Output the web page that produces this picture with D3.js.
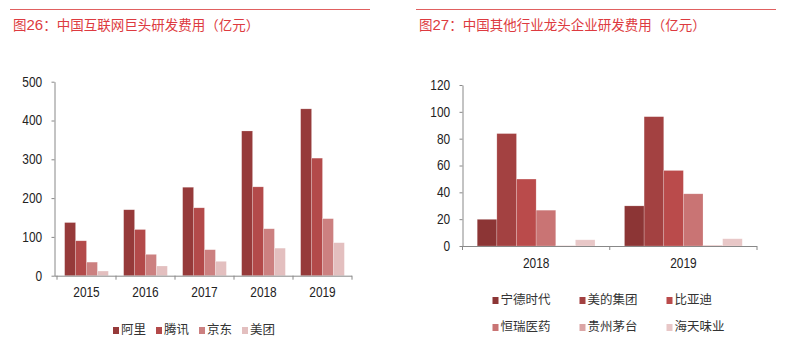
<!DOCTYPE html>
<html>
<head>
<meta charset="utf-8">
<script src="https://cdn.jsdelivr.net/npm/d3@7/dist/d3.min.js"></script>
<style>
  body { margin: 0; background: #fff; }
  svg { display: block; }
  .tick text { font-family: "Liberation Sans", Arial, sans-serif; fill: #222; }
</style>
</head>
<body>
<svg id="chart" width="788" height="354"></svg>
<script>
// 图26 data
const years26 = ['2015', '2016', '2017', '2018', '2019'];
const names26 = ['阿里', '腾讯', '京东', '美团'];
const ali = [137, 170, 228, 373, 430];
const tencent = [90, 119, 175, 229, 303];
const jd = [35, 55, 67, 121, 147];
const meituan = [12, 25, 37, 71, 85];
const ticks26 = [0, 100, 200, 300, 400, 500];

// 图27 data
const years27 = ['2018', '2019'];
const names27 = ['宁德时代', '美的集团', '比亚迪', '恒瑞医药', '贵州茅台', '海天味业'];
const catl = [19.9, 29.9];
const midea = [83.8, 96.4];
const byd = [49.9, 56.3];
const hengrui = [26.7, 38.9];
const moutai = [0.2, 0.5];
const haitian = [4.6, 5.4];
const ticks27 = [0, 20, 40, 60, 80, 100, 120];

const colors26 = ['#963a3a', '#b34a4a', '#cc8080', '#e3bfbf'];
const colors27 = ['#8c3535', '#a34141', '#ba4b4b', '#c97474', '#dba5a5', '#e8c7c7'];

const svg = d3.select('#chart');
const titleColor = '#dd3a40';
const cjk = '"Noto Sans CJK SC", sans-serif';

function header(x0, x1, label, text) {
    svg.append('line')
        .attr('x1', x0).attr('x2', x1).attr('y1', 9.5).attr('y2', 9.5)
        .attr('stroke', '#e06060').attr('stroke-width', 1);
    const t = svg.append('text')
        .attr('x', x0 + 3).attr('y', 30)
        .attr('fill', titleColor)
        .style('font-family', cjk)
        .style('font-size', '13.5px');
    t.append('tspan').text('图');
    t.append('tspan').style('font-family', '"Liberation Sans", Arial, sans-serif').style('font-size', '15px').text(label);
    t.append('tspan').text('：' + text);
}

function barChart(o) {
    const x = d3.scaleBand().domain(o.cats).range([o.left, o.right]).paddingInner(0).paddingOuter(0);
    const x1 = d3.scaleBand().domain(d3.range(o.series.length))
        .range([0, x.bandwidth()]).paddingOuter(o.pad).paddingInner(0);
    const y = d3.scaleLinear().domain([0, o.max]).range([o.bottom, o.top]);

    o.series.forEach((vals, si) => {
        svg.append('g').selectAll('rect')
            .data(vals)
            .join('rect')
            .attr('x', (d, i) => x(o.cats[i]) + x1(si))
            .attr('y', d => y(d))
            .attr('width', x1.bandwidth())
            .attr('height', d => o.bottom - y(d))
            .attr('fill', o.colors[si])
            .attr('stroke', 'rgba(255,255,255,0.35)')
            .attr('stroke-width', 0.6);
    });

    // labels in the source are a condensed face, so squeeze horizontally
    const ya = svg.append('g')
        .attr('transform', 'translate(' + o.axisX + ',0)')
        .call(d3.axisLeft(y).tickValues(o.ticks).tickSize(3).tickPadding(11.5).tickSizeOuter(0));
    ya.selectAll('text').style('font-size', '14px').attr('transform', 'scale(0.85,1)');
    ya.selectAll('line, path').attr('stroke', '#888');

    const xa = svg.append('g')
        .attr('transform', 'translate(0,' + o.bottom + ')')
        .call(d3.axisBottom(x).tickSize(0).tickPadding(o.xpad));
    xa.select('path').attr('d', 'M' + o.axisX + ',0.5H' + o.right).attr('stroke', '#888');
    xa.selectAll('text').style('font-size', '14px').attr('transform', 'scale(0.85,1)');
    // boundary ticks between categories
    xa.selectAll('.sep')
        .data(d3.range(o.cats.length + 1))
        .join('line')
        .attr('class', 'sep')
        .attr('x1', i => o.left + i * x.bandwidth())
        .attr('x2', i => o.left + i * x.bandwidth())
        .attr('y1', 0).attr('y2', 4)
        .attr('stroke', '#888');
}

header(10, 370, '26', '中国互联网巨头研发费用（亿元）');
header(416, 776, '27', '中国其他行业龙头企业研发费用（亿元）');

barChart({
    cats: years26, series: [ali, tencent, jd, meituan], colors: colors26,
    axisX: 54.5, left: 57, right: 352, top: 81.7, bottom: 275.7, max: 500, ticks: ticks26,
    pad: 0.7, xpad: 11
});

barChart({
    cats: years27, series: [catl, midea, byd, hengrui, moutai, haitian], colors: colors27,
    axisX: 462.5, left: 462.5, right: 757, top: 85, bottom: 246, max: 120, ticks: ticks27,
    pad: 0.75, xpad: 12
});

// legends
function legend(items, colors, positions) {
    const g = svg.append('g');
    items.forEach((name, i) => {
        const p = positions[i];
        g.append('rect')
            .attr('x', p[0]).attr('y', p[1] - 3)
            .attr('width', 6).attr('height', 7)
            .attr('fill', colors[i]);
        g.append('text')
            .attr('x', p[0] + 8).attr('y', p[1] + 4)
            .attr('fill', '#333')
            .style('font-family', cjk)
            .style('font-size', '12.5px')
            .text(name);
    });
}

legend(names26, colors26, names26.map((d, i) => [113 + i * 43, 330]));
legend(names27, colors27, names27.map((d, i) => [492.5 + (i % 3) * 87, 300 + Math.floor(i / 3) * 27]));
</script>
</body>
</html>
